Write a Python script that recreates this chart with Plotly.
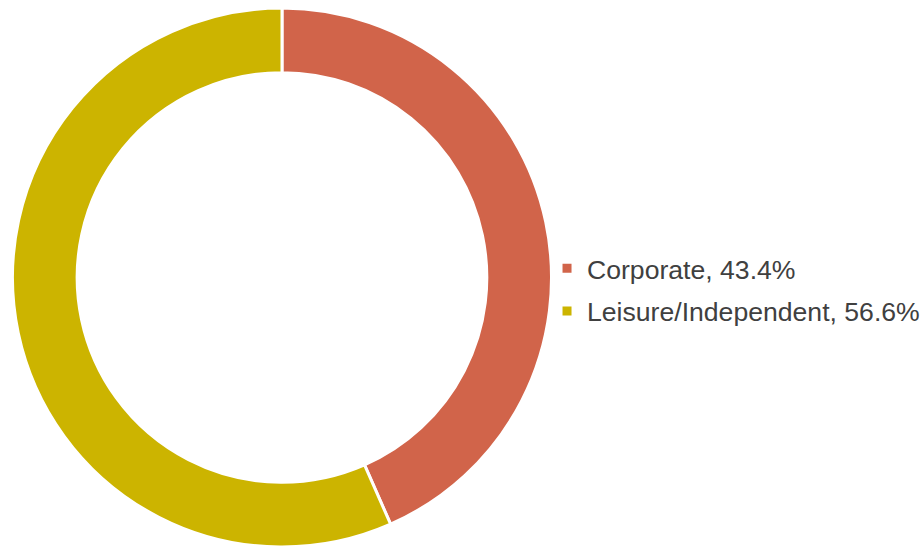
import plotly.graph_objects as go

labels = ["Corporate, 43.4%", "Leisure/Independent, 56.6%"]
values = [43.4, 56.6]
colors = ["#D1644A", "#CCB400"]

fig = go.Figure()
fig.add_trace(go.Pie(
    labels=labels,
    values=values,
    hole=0.76,
    sort=False,
    direction="clockwise",
    rotation=0,
    marker=dict(colors=colors, line=dict(color="white", width=3)),
    textinfo="none",
    hoverinfo="label",
    showlegend=False,
    domain=dict(x=[0, 0.6117], y=[0, 0.9854]),
))

# legend entries (one group per slice, so spacing between rows can be set)
for lab, col in zip(labels, colors):
    fig.add_trace(go.Scatter(
        x=[None], y=[None], mode="markers", name=lab,
        legendgroup=lab,
        marker=dict(symbol="square", size=9, color=col),
        hoverinfo="skip",
    ))

fig.update_layout(
    width=922, height=547,
    margin=dict(l=0, r=0, t=0, b=0, autoexpand=False),
    paper_bgcolor="white",
    plot_bgcolor="white",
    font=dict(family="Liberation Sans, Arial, sans-serif", size=26.6, color="#404040"),
    xaxis=dict(visible=False),
    yaxis=dict(visible=False),
    legend=dict(x=0.5933, y=0.4698, xanchor="left", yanchor="middle",
                font=dict(size=26.6, color="#404040"),
                tracegroupgap=5,
                bgcolor="rgba(0,0,0,0)"),
)

fig.write_html(
    "out.html",
    config={"displayModeBar": False},
    post_script="document.documentElement.style.overflow='hidden';"
                "document.body.style.margin='0';"
                "document.body.style.overflow='hidden';",
)
